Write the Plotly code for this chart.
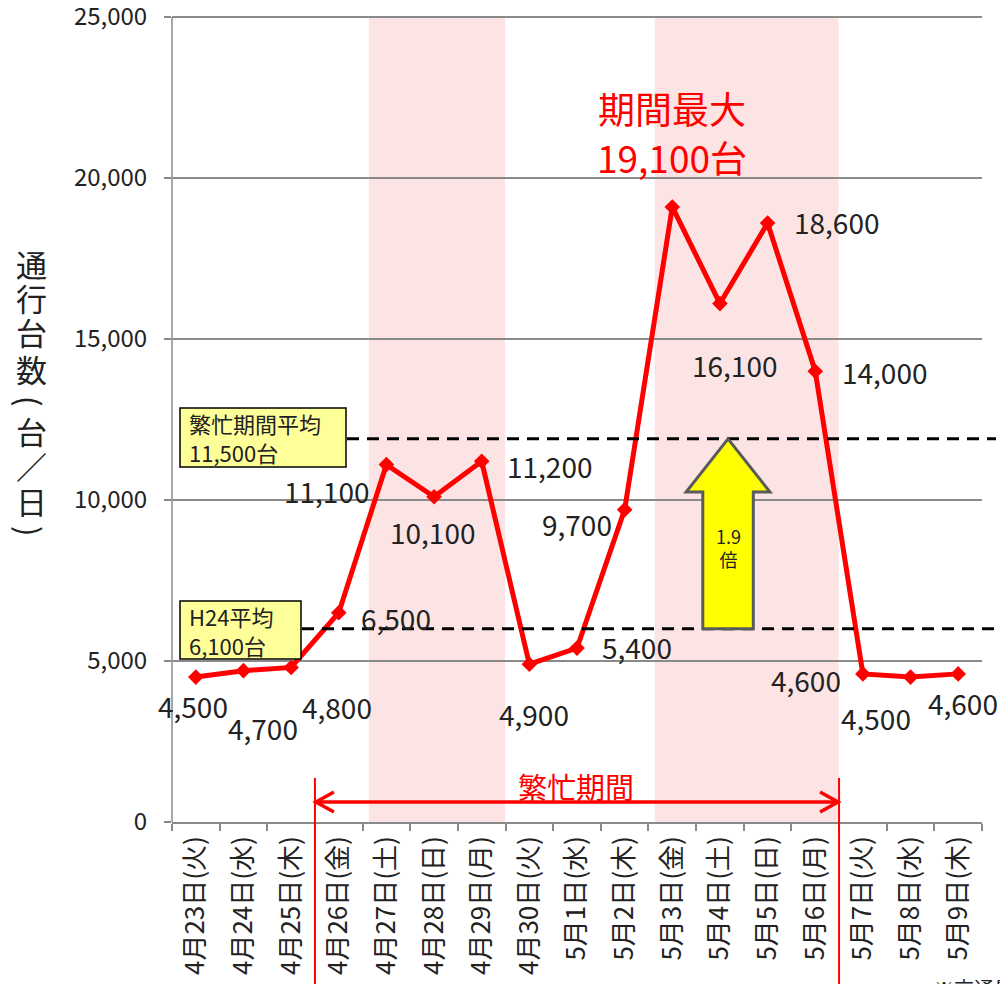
import plotly.graph_objects as go

# ---------------- data ----------------
dates = ["4月23日(火)", "4月24日(水)", "4月25日(木)", "4月26日(金)", "4月27日(土)",
         "4月28日(日)", "4月29日(月)", "4月30日(火)", "5月1日(水)", "5月2日(木)",
         "5月3日(金)", "5月4日(土)", "5月5日(日)", "5月6日(月)", "5月7日(火)",
         "5月8日(水)", "5月9日(木)"]
traffic = [4500, 4700, 4800, 6500, 11100, 10100, 11200, 4900, 5400, 9700,
           19100, 16100, 18600, 14000, 4600, 4500, 4600]
show_label = [True] * 10 + [False] + [True] * 6
y_ticks = [0, 5000, 10000, 15000, 20000, 25000]

holiday_bands = [("4月27日(土)", "4月29日(月)"), ("5月3日(金)", "5月6日(月)")]
busy_period = ("4月26日(金)", "5月6日(月)")

busy_avg_text = "繁忙期間平均<br>11,500台"
h24_avg_text = "H24平均<br>6,100台"
busy_avg_line = 11900   # drawn position
h24_avg_line = 6000     # drawn position
ratio_text = "1.9<br>倍"
peak_title = "期間最大"
peak_value = "19,100台"
busy_label = "繁忙期間"
y_title_chars = ["通", "行", "台", "数", "(", "台", "／", "日", ")"]
y_title_rot = [0, 0, 0, 0, 90, 0, 0, 0, 90]
note_text = "※交通量は…"

# ---------------- layout helpers ----------------
W, H = 1000, 984
L, R, B = 172, 982, 822
Y_TOP_PX = 17                 # pixel row of the 25,000 gridline
T = 1
YMAX = 25000
RANGE_TOP = YMAX * (B - T) / (B - Y_TOP_PX)
PW, PH = R - L, B - T
N = len(dates)
FONT = "Noto Sans CJK JP"
GRID = "#8a8a8a"
RED = "#ff0000"
TXT = "#222222"

def px_x(px):
    return (px - L) / PW

def px_y(py):
    return (B - py) / PH

def idx_paper(i):
    return (i + 0.5) / N

# label offsets (pixels) relative to each point
label_dx = [-3, 20, 46, 57, -60, -2, 68, 5, 60, -48, 0, 15, 69, 69, -57, -35, 5]
label_dy = [-29, -57, -40, -5, -26, -35, -5, -50, 1, -14, 0, -61, 1, -1, -6, -41, -29]
# y title character centres (pixels)
title_char_y = [263, 297, 331, 368, 401, 431, 465, 500, 531]
# label boxes: (left, top, right, bottom) in pixels
busy_box = (180, 408, 346, 467)
h24_box = (180, 601, 301, 659)

fig = go.Figure()

fig.add_trace(go.Scatter(
    x=dates, y=traffic, mode="lines+markers",
    line=dict(color=RED, width=5),
    marker=dict(symbol="diamond", size=12, color=RED),
    hoverinfo="skip", showlegend=False,
))

shapes = []
# pink bands
for a, b in holiday_bands:
    i0, i1 = dates.index(a), dates.index(b)
    shapes.append(dict(type="rect", xref="paper", yref="y",
                       x0=idx_paper(i0) - 0.37 / N, x1=idx_paper(i1) + 0.49 / N,
                       y0=0, y1=YMAX, fillcolor="#fde4e4", line=dict(width=0), layer="below"))

# y axis line (only up to the top tick)
shapes.append(dict(type="line", xref="paper", yref="y", x0=0, x1=0, y0=0, y1=YMAX,
                   line=dict(color=GRID, width=1.5), layer="below"))

# dashed average lines
shapes.append(dict(type="line", xref="paper", yref="y", x0=px_x(busy_box[2] + 1), x1=px_x(996),
                   y0=busy_avg_line, y1=busy_avg_line,
                   line=dict(color="black", width=3, dash="12px,8px"), layer="above"))
shapes.append(dict(type="line", xref="paper", yref="y", x0=px_x(h24_box[2] + 1), x1=px_x(996),
                   y0=h24_avg_line, y1=h24_avg_line,
                   line=dict(color="black", width=3, dash="12px,8px"), layer="above"))

# yellow label boxes
for bx in (busy_box, h24_box):
    shapes.append(dict(type="rect", xref="paper", yref="paper",
                       x0=px_x(bx[0]), x1=px_x(bx[2]), y0=px_y(bx[3]), y1=px_y(bx[1]),
                       fillcolor="#ffff99", line=dict(color="black", width=1.5), layer="above"))

# yellow up arrow between the two lines
ac = idx_paper(dates.index("5月4日(土)")) + 0.17 / N
shaft = 0.53 / N
head = 0.88 / N
head_base = 10250
p = (f"M {ac} {busy_avg_line} L {ac + head} {head_base} L {ac + shaft} {head_base} "
     f"L {ac + shaft} {h24_avg_line} L {ac - shaft} {h24_avg_line} L {ac - shaft} {head_base} "
     f"L {ac - head} {head_base} Z")
shapes.append(dict(type="path", xref="paper", yref="y", path=p,
                   fillcolor="#ffff00", line=dict(color="#5a5a5a", width=3), layer="above"))

# busy period bracket
i_s, i_e = dates.index(busy_period[0]), dates.index(busy_period[1])
xs = idx_paper(i_s) - 0.5 / N
xe = idx_paper(i_e) + 0.5 / N
for xx in (xs, xe):
    shapes.append(dict(type="line", xref="paper", yref="paper", x0=xx, x1=xx,
                       y0=px_y(778), y1=px_y(990), line=dict(color=RED, width=2), layer="above"))
ya = px_y(802)
shapes.append(dict(type="line", xref="paper", yref="paper", x0=xs + 1 / PW, x1=xe - 1 / PW,
                   y0=ya, y1=ya, line=dict(color=RED, width=3.5), layer="above"))
ah_w, ah_h = 18 / PW, 10 / PH
shapes.append(dict(type="path", xref="paper", yref="paper",
                   path=f"M {xs + 1/PW + ah_w} {ya + ah_h} L {xs + 1/PW} {ya} L {xs + 1/PW + ah_w} {ya - ah_h}",
                   line=dict(color=RED, width=3.5), layer="above"))
shapes.append(dict(type="path", xref="paper", yref="paper",
                   path=f"M {xe - 1/PW - ah_w} {ya + ah_h} L {xe - 1/PW} {ya} L {xe - 1/PW - ah_w} {ya - ah_h}",
                   line=dict(color=RED, width=3.5), layer="above"))

annotations = []
# value labels
for i, (d, v) in enumerate(zip(dates, traffic)):
    if not show_label[i]:
        continue
    annotations.append(dict(x=d, y=v, xref="x", yref="y", text=f"{v:,}", showarrow=False,
                            xanchor="center", yanchor="middle",
                            xshift=label_dx[i], yshift=label_dy[i],
                            font=dict(family=FONT, size=28, color=TXT)))

# peak annotation
annotations.append(dict(xref="paper", yref="paper", x=px_x(672), y=px_y(108), text=peak_title,
                        xanchor="center", yanchor="middle",
                        showarrow=False, font=dict(family=FONT, size=37, color=RED)))
annotations.append(dict(xref="paper", yref="paper", x=px_x(672), y=px_y(157), text=peak_value,
                        xanchor="center", yanchor="middle",
                        showarrow=False, font=dict(family=FONT, size=37, color=RED)))

# text inside the label boxes
for bx, txt in ((busy_box, busy_avg_text), (h24_box, h24_avg_text)):
    annotations.append(dict(xref="paper", yref="paper", x=px_x(bx[0] + 7),
                            y=px_y((bx[1] + bx[3]) / 2), xanchor="left", yanchor="middle",
                            text=txt, align="left", showarrow=False,
                            font=dict(family=FONT, size=22, color=TXT)))

# ratio text in arrow
annotations.append(dict(xref="paper", yref="paper", x=ac, y=px_y(547), text=ratio_text,
                        xanchor="center", yanchor="middle",
                        showarrow=False, font=dict(family=FONT, size=18, color=TXT)))

# busy period label
annotations.append(dict(xref="paper", yref="paper", x=px_x(576), y=px_y(786), text=busy_label,
                        xanchor="center", yanchor="middle",
                        showarrow=False, font=dict(family=FONT, size=29, color=RED)))

# vertical y axis title (upright characters, brackets turned)
for ch, cy, rot in zip(y_title_chars, title_char_y, y_title_rot):
    annotations.append(dict(xref="paper", yref="paper", x=px_x(31), y=px_y(cy),
                            xanchor="center", yanchor="middle", textangle=rot,
                            text=ch, showarrow=False,
                            font=dict(family=FONT, size=31, color=TXT)))

# bottom-right note (cut off at the page edge)
annotations.append(dict(xref="paper", yref="paper", x=px_x(932), y=px_y(972), xanchor="left",
                        yanchor="top", text=note_text, showarrow=False,
                        font=dict(family=FONT, size=20, color=TXT)))

fig.update_layout(
    width=W, height=H,
    margin=dict(l=L, r=W - R, t=T, b=H - B, autoexpand=False),
    paper_bgcolor="white", plot_bgcolor="rgba(0,0,0,0)",
    shapes=shapes, annotations=annotations,
    showlegend=False,
    xaxis=dict(type="category", categoryorder="array", categoryarray=dates,
               range=[-0.5, N - 0.5], tickson="boundaries", ticks="outside", ticklen=7,
               tickcolor=GRID, tickwidth=1.5, showline=True, linecolor=GRID, linewidth=1.5,
               showgrid=False, tickangle=-90, ticklabelstandoff=2, automargin=False,
               tickfont=dict(family=FONT, size=26, color=TXT)),
    yaxis=dict(range=[0, RANGE_TOP], tickvals=y_ticks,
               tickformat=",", showgrid=True, ticklabeloverflow="allow",
               gridcolor=GRID, gridwidth=1.5, ticks="outside", ticklen=7, tickcolor=GRID,
               tickwidth=1.5, showline=False, zeroline=False,
               ticklabelstandoff=12, automargin=False,
               tickfont=dict(family=FONT, size=24, color=TXT)),
)

fig.write_html("out.html", config={"displayModeBar": False},
               post_script="document.body.style.margin='0';document.body.style.overflow='hidden';")
